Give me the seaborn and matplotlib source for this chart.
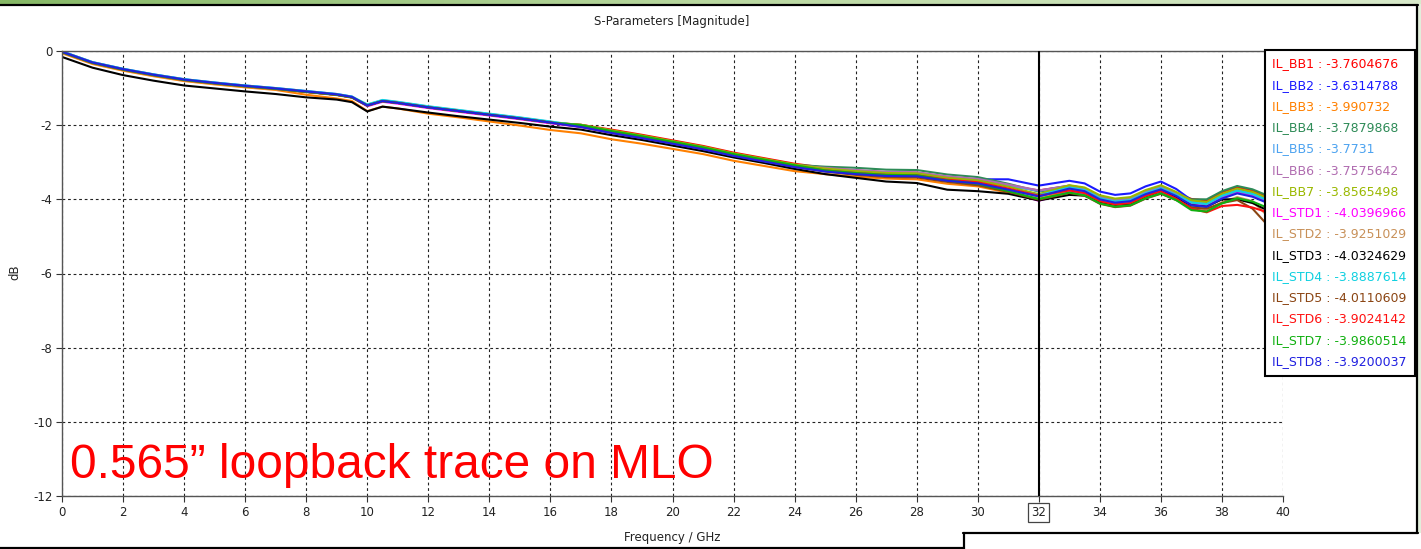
import numpy as np
import pandas as pd
import matplotlib
matplotlib.use("Agg")
import matplotlib.pyplot as plt
import seaborn as sns
from matplotlib.lines import Line2D
from matplotlib.patches import Rectangle
from matplotlib.colors import LinearSegmentedColormap

# ---------------- data ----------------
freq = [0, 1, 2, 3, 4, 5, 6, 7, 8, 9, 9.5, 10, 10.5, 11, 12, 13, 14, 15, 16, 17,
        18, 19, 20, 21, 22, 23, 24, 25, 26, 27, 28, 29, 30, 31, 32, 33, 33.5, 34,
        34.5, 35, 35.5, 36, 36.5, 37, 37.5, 38, 38.5, 39, 39.5, 40]

IL_BB1 = [-0.03, -0.32, -0.50, -0.65, -0.78, -0.87, -0.95, -1.02, -1.10, -1.18, -1.25,
          -1.47, -1.35, -1.40, -1.52, -1.62, -1.72, -1.82, -1.93,
          -1.99, -2.12, -2.26, -2.41, -2.56, -2.74, -2.89, -3.04,
          -3.15, -3.22, -3.27, -3.28, -3.40, -3.47, -3.63,
          -3.76,
          -3.63, -3.70, -3.92, -4.01, -3.97, -3.78, -3.65, -3.83,
          -3.99, -4.03, -3.81, -3.67, -3.76, -3.93, -4.18]
IL_BB2 = [-0.01, -0.30, -0.48, -0.63, -0.76, -0.85, -0.93, -1.00, -1.08, -1.16, -1.23,
          -1.47, -1.35, -1.40, -1.52, -1.62, -1.72, -1.82, -1.93,
          -2.04, -2.20, -2.34, -2.49, -2.64, -2.82, -2.97, -3.12,
          -3.18, -3.25, -3.30, -3.31, -3.43, -3.46, -3.46,
          -3.63,
          -3.50, -3.57, -3.79, -3.88, -3.84, -3.65, -3.52, -3.72,
          -4.02, -4.10, -3.88, -3.74, -3.83, -4.00, -4.25]
IL_BB3 = [-0.06, -0.35, -0.53, -0.68, -0.81, -0.90, -0.98, -1.05, -1.18, -1.28, -1.35,
          -1.62, -1.50, -1.55, -1.69, -1.79, -1.90, -2.01, -2.13,
          -2.22, -2.38, -2.50, -2.64, -2.78, -2.96, -3.10, -3.24,
          -3.32, -3.39, -3.44, -3.46, -3.58, -3.65, -3.82,
          -3.99,
          -3.76, -3.82, -4.03, -4.11, -4.07, -3.88, -3.75, -3.92,
          -4.11, -4.15, -3.93, -3.79, -3.88, -4.05, -4.30]
IL_BB4 = [-0.03, -0.32, -0.50, -0.65, -0.78, -0.87, -0.95, -1.02, -1.10, -1.18, -1.25,
          -1.47, -1.35, -1.40, -1.52, -1.62, -1.72, -1.82, -1.93,
          -1.99, -2.15, -2.29, -2.44, -2.59, -2.77, -2.92, -3.07,
          -3.12, -3.15, -3.20, -3.21, -3.33, -3.40, -3.58,
          -3.79,
          -3.68, -3.75, -3.97, -4.06, -4.02, -3.83, -3.70, -3.86,
          -4.00, -4.00, -3.78, -3.64, -3.73, -3.90, -4.15]
IL_BB5 = [-0.02, -0.31, -0.49, -0.64, -0.77, -0.86, -0.94, -1.01, -1.09, -1.17, -1.24,
          -1.45, -1.33, -1.38, -1.50, -1.60, -1.70, -1.80, -1.91,
          -2.02, -2.18, -2.32, -2.47, -2.62, -2.80, -2.95, -3.10,
          -3.20, -3.27, -3.32, -3.33, -3.45, -3.52, -3.64,
          -3.77,
          -3.63, -3.70, -3.92, -4.01, -3.97, -3.78, -3.65, -3.83,
          -4.06, -4.10, -3.88, -3.74, -3.83, -4.00, -4.25]
IL_BB6 = [-0.03, -0.32, -0.50, -0.65, -0.78, -0.87, -0.95, -1.02, -1.10, -1.18, -1.25,
          -1.47, -1.35, -1.40, -1.52, -1.62, -1.72, -1.82, -1.93,
          -2.02, -2.18, -2.32, -2.47, -2.62, -2.80, -2.95, -3.08,
          -3.15, -3.21, -3.26, -3.27, -3.38, -3.45, -3.60,
          -3.76,
          -3.65, -3.72, -3.94, -4.03, -3.99, -3.80, -3.67, -3.85,
          -4.13, -4.17, -3.95, -3.81, -3.90, -4.07, -4.32]
IL_BB7 = [-0.03, -0.32, -0.50, -0.65, -0.78, -0.87, -0.95, -1.02, -1.10, -1.18, -1.25,
          -1.47, -1.35, -1.40, -1.52, -1.62, -1.72, -1.82, -1.93,
          -1.99, -2.14, -2.28, -2.43, -2.58, -2.76, -2.91, -3.06,
          -3.17, -3.24, -3.29, -3.30, -3.42, -3.49, -3.66,
          -3.86,
          -3.62, -3.68, -3.89, -3.98, -3.94, -3.75, -3.62, -3.80,
          -4.03, -4.07, -3.85, -3.71, -3.80, -3.97, -4.22]
IL_STD1 = [-0.03, -0.32, -0.50, -0.65, -0.78, -0.87, -0.95, -1.02, -1.10, -1.18, -1.25,
           -1.49, -1.37, -1.42, -1.54, -1.64, -1.74, -1.84, -1.95,
           -2.05, -2.21, -2.35, -2.50, -2.65, -2.83, -2.98, -3.13,
           -3.23, -3.30, -3.35, -3.36, -3.48, -3.57, -3.78,
           -4.04,
           -3.80, -3.83, -4.02, -4.11, -4.07, -3.88, -3.75, -3.93,
           -4.11, -4.15, -3.93, -3.79, -3.88, -4.05, -4.30]
IL_STD2 = [-0.04, -0.33, -0.51, -0.66, -0.79, -0.88, -0.96, -1.03, -1.11, -1.19, -1.26,
           -1.47, -1.35, -1.40, -1.52, -1.62, -1.72, -1.82, -1.93,
           -2.02, -2.18, -2.32, -2.47, -2.62, -2.80, -2.95, -3.10,
           -3.22, -3.29, -3.34, -3.35, -3.47, -3.55, -3.73,
           -3.93,
           -3.74, -3.81, -4.03, -4.12, -4.08, -3.89, -3.76, -3.95,
           -4.22, -4.30, -4.08, -3.94, -4.05, -4.45, -4.70]
IL_STD3 = [-0.16, -0.45, -0.65, -0.80, -0.93, -1.01, -1.09, -1.16, -1.25, -1.31, -1.38,
           -1.63, -1.50, -1.55, -1.66, -1.76, -1.85, -1.94, -2.04,
           -2.12, -2.27, -2.40, -2.55, -2.70, -2.87, -3.02, -3.18,
           -3.32, -3.42, -3.52, -3.56, -3.74, -3.78, -3.85,
           -4.03,
           -3.88, -3.90, -4.08, -4.15, -4.12, -3.92, -3.78, -3.95,
           -4.16, -4.20, -4.00, -4.00, -4.10, -4.30, -4.50]
IL_STD4 = [-0.01, -0.30, -0.48, -0.63, -0.76, -0.85, -0.93, -1.00, -1.08, -1.16, -1.23,
           -1.44, -1.32, -1.37, -1.49, -1.59, -1.69, -1.79, -1.90,
           -2.02, -2.18, -2.32, -2.47, -2.62, -2.80, -2.95, -3.10,
           -3.23, -3.32, -3.37, -3.38, -3.50, -3.57, -3.73,
           -3.89,
           -3.68, -3.75, -3.97, -4.06, -4.02, -3.83, -3.70, -3.88,
           -4.09, -4.13, -3.91, -3.77, -3.86, -4.03, -4.28]
IL_STD5 = [-0.03, -0.32, -0.50, -0.65, -0.78, -0.87, -0.95, -1.02, -1.10, -1.18, -1.25,
           -1.47, -1.35, -1.40, -1.52, -1.62, -1.72, -1.82, -1.93,
           -2.04, -2.20, -2.34, -2.49, -2.64, -2.82, -2.97, -3.12,
           -3.25, -3.34, -3.40, -3.41, -3.53, -3.62, -3.80,
           -4.01,
           -3.83, -3.90, -4.12, -4.21, -4.17, -3.98, -3.85, -4.02,
           -4.22, -4.25, -4.10, -4.02, -4.25, -4.70, -4.95]
IL_STD6 = [-0.03, -0.32, -0.50, -0.65, -0.78, -0.87, -0.95, -1.02, -1.10, -1.18, -1.25,
           -1.47, -1.35, -1.40, -1.52, -1.62, -1.72, -1.82, -1.93,
           -2.02, -2.18, -2.32, -2.47, -2.62, -2.80, -2.95, -3.10,
           -3.22, -3.29, -3.34, -3.35, -3.47, -3.54, -3.71,
           -3.90,
           -3.76, -3.83, -4.05, -4.14, -4.10, -3.91, -3.78, -3.98,
           -4.25, -4.35, -4.18, -4.15, -4.22, -4.35, -4.55]
IL_STD7 = [-0.03, -0.32, -0.50, -0.65, -0.78, -0.87, -0.95, -1.02, -1.10, -1.18, -1.25,
           -1.47, -1.35, -1.40, -1.52, -1.62, -1.72, -1.82, -1.93,
           -2.00, -2.16, -2.30, -2.45, -2.60, -2.78, -2.93, -3.08,
           -3.22, -3.29, -3.34, -3.35, -3.49, -3.58, -3.78,
           -3.99,
           -3.82, -3.89, -4.11, -4.20, -4.16, -3.97, -3.84, -4.02,
           -4.29, -4.33, -4.11, -3.97, -4.06, -4.23, -4.48]
IL_STD8 = [-0.02, -0.31, -0.49, -0.64, -0.77, -0.86, -0.94, -1.01, -1.09, -1.17, -1.24,
           -1.47, -1.35, -1.40, -1.52, -1.62, -1.72, -1.82, -1.93,
           -2.05, -2.21, -2.35, -2.50, -2.65, -2.83, -2.98, -3.13,
           -3.25, -3.32, -3.37, -3.38, -3.50, -3.57, -3.74,
           -3.92,
           -3.71, -3.78, -4.00, -4.09, -4.05, -3.86, -3.73, -3.91,
           -4.16, -4.20, -3.98, -3.84, -3.93, -4.10, -4.35]

series_names = ["IL_BB1", "IL_BB2", "IL_BB3", "IL_BB4", "IL_BB5", "IL_BB6", "IL_BB7",
                "IL_STD1", "IL_STD2", "IL_STD3", "IL_STD4", "IL_STD5", "IL_STD6",
                "IL_STD7", "IL_STD8"]
series_values = [IL_BB1, IL_BB2, IL_BB3, IL_BB4, IL_BB5, IL_BB6, IL_BB7,
                 IL_STD1, IL_STD2, IL_STD3, IL_STD4, IL_STD5, IL_STD6, IL_STD7, IL_STD8]
marker_values = ["-3.7604676", "-3.6314788", "-3.990732", "-3.7879868", "-3.7731",
                 "-3.7575642", "-3.8565498", "-4.0396966", "-3.9251029", "-4.0324629",
                 "-3.8887614", "-4.0110609", "-3.9024142", "-3.9860514", "-3.9200037"]
colors = ["#ff0000", "#1a1aff", "#ff8000", "#2e8b57", "#4da3f0", "#b06cb0", "#9ab800",
          "#ff00ff", "#c89058", "#000000", "#10d0e0", "#8b4513", "#ff1010", "#10b010",
          "#2020e0"]
x_ticks = list(range(0, 41, 2))
y_ticks = list(range(-12, 1, 2))
marker_freq = 32

# ---------------- styling ----------------
sns.set_style("white")
plt.rcParams["font.family"] = ["DejaVu Sans"]
plt.rcParams["axes.unicode_minus"] = False

W, H = 1421, 549
fig = plt.figure(figsize=(W / 100, H / 100), dpi=100)

def fx(px):
    return px / W

def fy(py):
    return 1 - py / H

ax = fig.add_axes([fx(62), fy(496), fx(1283) - fx(62), fy(51) - fy(496)])

df = pd.DataFrame({
    "freq": np.tile(freq, len(series_names)),
    "dB": np.concatenate([np.array(v) for v in series_values]),
    "series": np.repeat(series_names, len(freq)),
})
palette = dict(zip(series_names, colors))
sns.lineplot(data=df, x="freq", y="dB", hue="series", hue_order=series_names,
             palette=palette, linewidth=1.5, legend=False, ax=ax, sort=False,
             estimator=None)

ax.set_xlim(0, 40)
ax.set_ylim(-12, 0)
ax.set_xticks(x_ticks)
ax.set_yticks(y_ticks)
ax.grid(True, color="#222222", linestyle=(0, (2.5, 2.5)), linewidth=0.8)
ax.set_axisbelow(True)
ax.spines["right"].set_visible(False)
for s in ["left", "bottom", "top"]:
    ax.spines[s].set_color("#555555")
    ax.spines[s].set_linewidth(1.0)
ax.tick_params(axis="both", direction="out", length=4, width=0.8, color="#333333",
               labelsize=8.5, labelcolor="#222222", pad=3, bottom=True, left=True)
ax.set_xlabel("")
ax.set_ylabel("")

# marker line
ax.axvline(marker_freq, color="black", linewidth=1.5, zorder=5)
for lbl in ax.get_xticklabels():
    if lbl.get_text() == str(marker_freq):
        lbl.set_bbox(dict(boxstyle="square,pad=0.25", facecolor="white",
                          edgecolor="#444444", linewidth=0.9))

# annotation
ax.text(0.26, -11.52, "0.565\u201d loopback trace on MLO", color="#ff0000",
        fontsize=34.5, family=["Liberation Sans", "DejaVu Sans"], va="baseline",
        ha="left", zorder=6)

# legend
handles = [Line2D([], [], color=c, linewidth=0) for c in colors]
labels = [f"{n} : {v}" for n, v in zip(series_names, marker_values)]
leg = ax.legend(handles, labels, loc="upper left",
                bbox_to_anchor=(fx(1265), fy(50)), bbox_transform=fig.transFigure,
                handlelength=0, handletextpad=0, labelcolor=colors, fontsize=9,
                labelspacing=0.66, borderpad=0.6, borderaxespad=0,
                frameon=True, fancybox=False, framealpha=1)
leg.get_frame().set_edgecolor("black")
leg.get_frame().set_linewidth(1.5)
leg.set_zorder(10)

# titles
fig.text(fx(672), fy(22), "S-Parameters [Magnitude]", ha="center", va="center",
         fontsize=8.5, color="#222222")
fig.text(fx(15), fy(272), "dB", ha="center", va="center", rotation=90,
         fontsize=8.5, color="#222222")
fig.text(fx(672), fy(537), "Frequency / GHz", ha="center", va="center",
         fontsize=8.5, color="#222222")

# window decorations
grad_ax = fig.add_axes([0, fy(4), 1, fy(0) - fy(4)])
grad = np.linspace(0, 1, 256).reshape(1, -1)
gcmap = LinearSegmentedColormap.from_list("g", ["#86b866", "#b9d8a0", "#d8eacb"])
grad_ax.imshow(grad, aspect="auto", cmap=gcmap)
grad_ax.axis("off")
fig.patches.append(Rectangle((fx(1418), fy(533)), 1 - fx(1418), fy(4) - fy(533),
                             transform=fig.transFigure, facecolor="#e2eedb",
                             edgecolor="none", zorder=0))
for (x0, y0, x1, y1, lw) in [(0, 5, 1418, 5, 2.2), (1417, 5, 1417, 533, 2.2),
                             (963, 533, 1418, 533, 2.2), (964, 533, 964, 549, 2.2),
                             (0, 547.5, 964, 547.5, 2.2)]:
    fig.add_artist(Line2D([fx(x0), fx(x1)], [fy(y0), fy(y1)], color="black",
                          linewidth=lw * 0.72, transform=fig.transFigure))

fig.savefig("out.png", dpi=100)
